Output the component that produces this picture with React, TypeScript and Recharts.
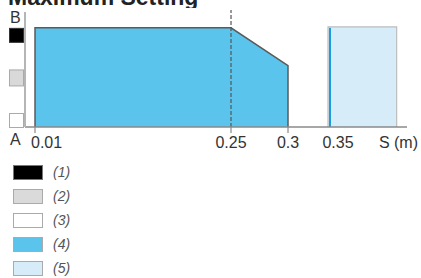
import { ComposedChart, Area, XAxis, YAxis, ReferenceLine, Label } from "recharts";

// distances along S (m)
const coverageS = [0.01, 0.01, 0.25, 0.3, 0.3];
const coverageLevel = [0, 1, 1, 0.62, 0];
const toleranceS = [0.34, 0.34, 0.3925, 0.3925];
const toleranceLevel = [0, 1.01, 1.01, 0];
const thresholdS = 0.25;
const edgeS = 0.342;
const edgeTop = 1;

const xTicks = [0.01, 0.25, 0.3, 0.35];
const unmarkedTicks = [0.35];
const levelTicks = [0, 0.5, 1];
const levelFills = ["#ffffff", "#d9d9d9", "#000000"];
const levelNames = ["A", "", "B"];

const legendLabels = ["(1)", "(2)", "(3)", "(4)", "(5)"];
const legendFills = ["#000000", "#dadada", "#ffffff", "#5bc4ec", "#d6ecf9"];

// the S axis in the drawing is schematic, not linear
const scaleKnots = [0, 0.01, 0.25, 0.3, 0.35, 0.4];
const scaleStops = [0, 0.0262, 0.5393, 0.6885, 0.8194, 1];

function schematicScale(knots: number[], stops: number[]) {
  let dom = [knots[0], knots[knots.length - 1]];
  let rng = [0, 1];
  const fn: any = (v: number) => {
    let i = 0;
    while (i < knots.length - 2 && v > knots[i + 1]) i++;
    const t = (v - knots[i]) / (knots[i + 1] - knots[i]);
    const f = stops[i] + t * (stops[i + 1] - stops[i]);
    return rng[0] + f * (rng[1] - rng[0]);
  };
  fn.domain = (d?: number[]) => {
    if (d === undefined) return dom.slice();
    dom = d.slice();
    return fn;
  };
  fn.range = (r?: number[]) => {
    if (r === undefined) return rng.slice();
    rng = r.slice();
    return fn;
  };
  fn.copy = () => schematicScale(knots, stops).domain(dom).range(rng);
  fn.ticks = () => knots.slice();
  return fn;
}

const sScale = schematicScale(scaleKnots, scaleStops);

const coverageData = coverageS.map((s, i) => ({ s, level: coverageLevel[i] }));
const toleranceData = toleranceS.map((s, i) => ({ s, level: toleranceLevel[i] }));

const font = "'Liberation Sans', Arial, sans-serif";

const STick = (props: any) => {
  const { x, y, payload } = props;
  const first = payload.value === xTicks[0];
  return (
    <g>
      {!unmarkedTicks.includes(payload.value) && (
        <line x1={x} y1={y} x2={x} y2={y + 6} stroke="#8a8a8a" strokeWidth={1.2} />
      )}
      <text
        x={first ? x - 4 : x}
        y={y + 21}
        textAnchor={first ? "start" : "middle"}
        fontSize={16}
        fontFamily={font}
        fill="#333"
      >
        {payload.value}
      </text>
    </g>
  );
};

const LevelTick = (props: any) => {
  const { x, y, payload } = props;
  const idx = levelTicks.indexOf(payload.value);
  const top = idx === 0 ? y - 14 : idx === levelTicks.length - 1 ? y : y - 8;
  const h = idx === 1 ? 16 : 14;
  return (
    <g>
      <rect
        x={x - 15.5}
        y={top + 0.5}
        width={14}
        height={h}
        fill={levelFills[idx]}
        stroke={idx === 2 ? "#333" : "#aaa"}
        strokeWidth={1}
      />
      {idx === 0 && (
        <text x={x - 15} y={y + 18} fontSize={16} fontFamily={font} fill="#333">
          {levelNames[idx]}
        </text>
      )}
      {idx === 2 && (
        <text x={x - 15} y={y - 5} fontSize={16} fontFamily={font} fill="#333">
          {levelNames[idx]}
        </text>
      )}
    </g>
  );
};

const UnitLabel = (props: any) => {
  const { x, y, width } = props.viewBox;
  return (
    <text x={x + width + 11} y={y + 21} textAnchor="end" fontSize={16} fontFamily={font} fill="#333">
      S (m)
    </text>
  );
};

export default function App() {
  return (
    <div style={{ position: "absolute", left: 0, top: 0, width: 421, height: 278, background: "#fff" }}>
      <svg width={421} height={8} style={{ position: "absolute", left: 0, top: 0 }}>
        <text x={8} y={5} fontSize={23} fontWeight="bold" fontFamily={font} fill="#222">
          Maximum Setting
        </text>
      </svg>
      <div style={{ position: "absolute", left: 0, top: 0 }}>
        <ComposedChart width={421} height={160} margin={{ top: 12, right: 14, bottom: 3, left: 0 }}>
          <XAxis
            dataKey="s"
            type="number"
            domain={[0, 0.4]}
            scale={sScale}
            ticks={xTicks}
            interval={0}
            tickSize={0}
            tickMargin={0}
            tickLine={false}
            axisLine={{ stroke: "#8a8a8a", strokeWidth: 1.5 }}
            tick={<STick />}
            height={30}
          >
            <Label content={<UnitLabel />} />
          </XAxis>
          <YAxis
            type="number"
            domain={[0, 1.16]}
            ticks={levelTicks}
            interval={0}
            width={25}
            tickSize={0}
            tickMargin={0}
            tickLine={false}
            axisLine={{ stroke: "#b5b5b5", strokeWidth: 2 }}
            tick={<LevelTick />}
          />
          <Area
            data={toleranceData}
            dataKey="level"
            type="linear"
            fill="#d6ecf9"
            fillOpacity={1}
            stroke="#bdbdbd"
            strokeWidth={1.2}
            dot={false}
            activeDot={false}
            isAnimationActive={false}
          />
          <Area
            data={coverageData}
            dataKey="level"
            type="linear"
            fill="#5bc4ec"
            fillOpacity={1}
            stroke="#5a5a5a"
            strokeWidth={1.5}
            dot={false}
            activeDot={false}
            isAnimationActive={false}
          />
          <ReferenceLine
            segment={[
              { x: edgeS, y: 0 },
              { x: edgeS, y: edgeTop },
            ]}
            stroke="#1e9be0"
            strokeWidth={2}
          />
          <ReferenceLine
            segment={[
              { x: thresholdS, y: 0 },
              { x: thresholdS, y: 1.18 },
            ]}
            ifOverflow="visible"
            stroke="#555"
            strokeWidth={1.2}
            strokeDasharray="4 2"
          />
        </ComposedChart>
      </div>
      <div style={{ position: "absolute", left: 13, top: 165 }}>
        {legendLabels.map((label, i) => (
          <div key={label} style={{ display: "flex", alignItems: "center", height: 15, marginBottom: 9 }}>
            <svg width={31} height={15} style={{ display: "block" }}>
              <rect
                x={0.5}
                y={0.5}
                width={29}
                height={14}
                fill={legendFills[i]}
                stroke={i === 0 ? "#777" : "#aaa"}
                strokeWidth={1}
              />
            </svg>
            <span
              style={{
                marginLeft: 9,
                fontFamily: font,
                fontStyle: "italic",
                fontSize: 14,
                color: "#555",
                lineHeight: "15px",
              }}
            >
              {label}
            </span>
          </div>
        ))}
      </div>
    </div>
  );
}
